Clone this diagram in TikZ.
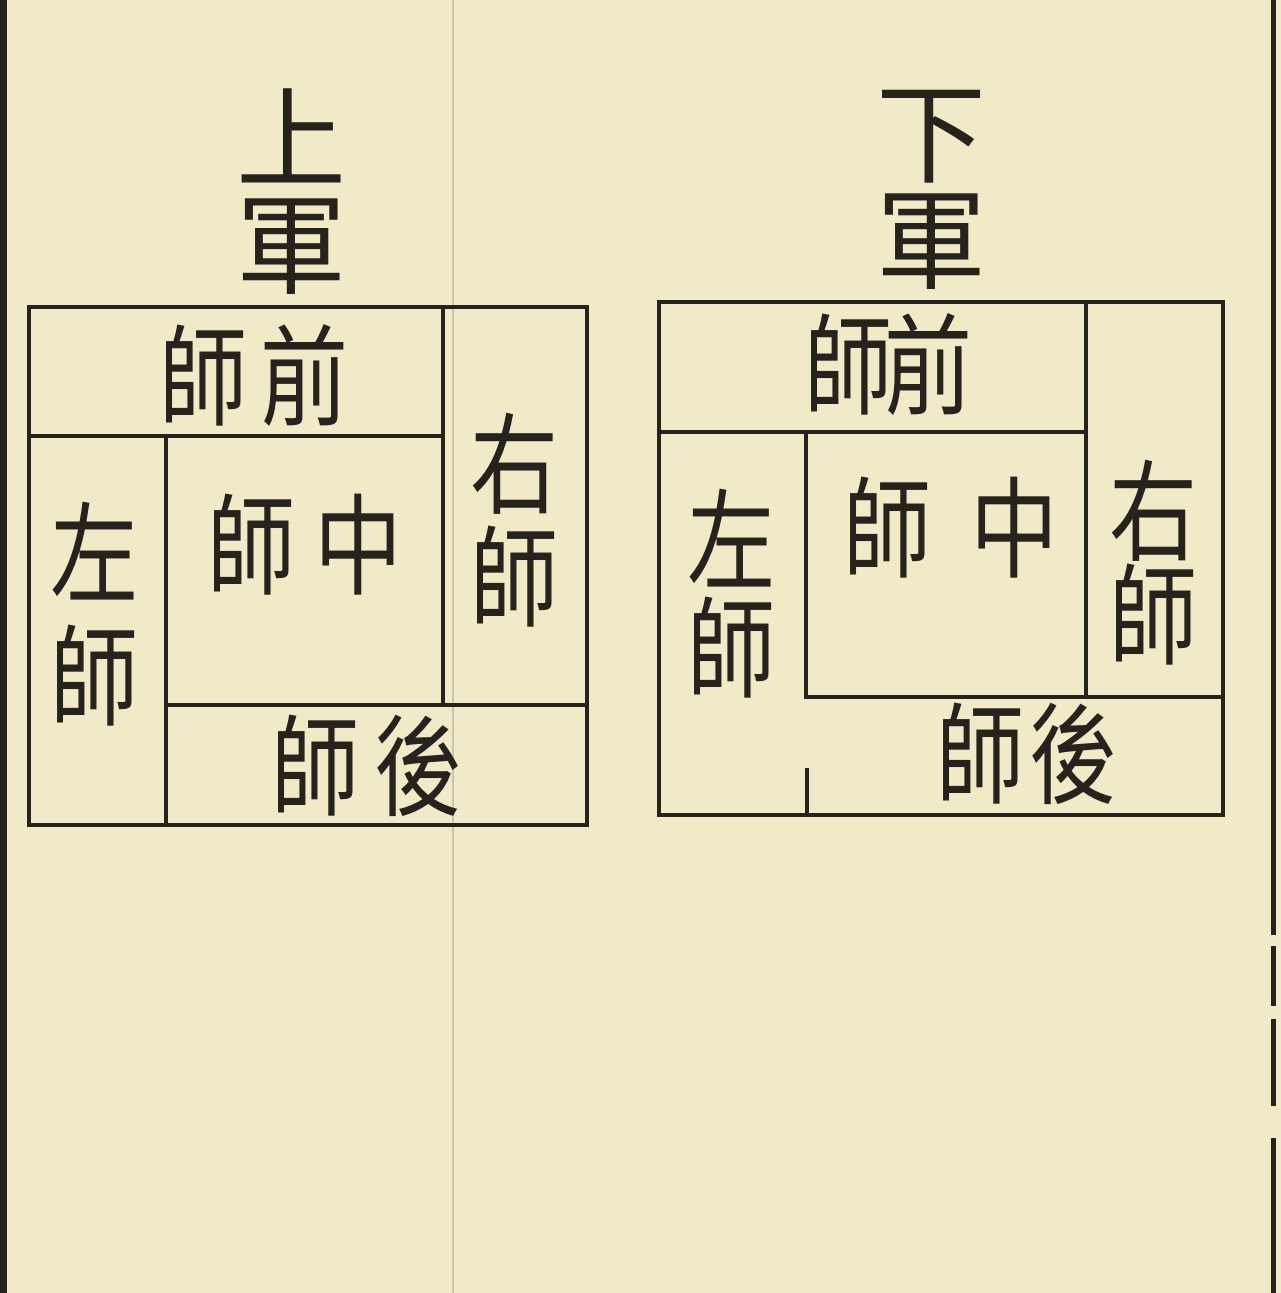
\documentclass[tikz,border=0pt]{standalone}
\usepackage{fontspec}
\newfontfamily\cjk[FakeStretch=0.8]{Noto Sans CJK TC}
\newfontfamily\cjkhead{Noto Sans CJK TC}
\definecolor{paper}{RGB}{241,234,201}
\definecolor{ink}{RGB}{38,34,28}
\definecolor{fold}{RGB}{200,196,178}

\begin{document}
\begin{tikzpicture}[x=1pt,y=-1pt]

\def\charSize{110}
\tikzset{
  wall/.style={draw=ink,line width=4.5pt,line cap=rect},
  hanzi/.style={text=ink,inner sep=0pt,align=center,font=\cjk\fontsize{\charSize}{#1}\selectfont},
  hanzi/.default=110,
  heading/.style={text=ink,inner sep=0pt,align=center,font=\cjkhead\fontsize{\charSize}{#1}\selectfont},
  heading/.default=106
}

\useasboundingbox (0,0) rectangle (1281,1293);
\fill[paper] (0,0) rectangle (1281,1293);

% page edges and the fold
\fill[ink] (0,0) rectangle (7,1293);
\draw[fold,line width=2pt] (453,0) -- (453,1293);
\draw[ink,line width=5pt] (1273,0) -- (1273,935) (1273,946) -- (1273,1006)
  (1273,1019) -- (1273,1106) (1273,1138) -- (1273,1293);

% upper army
\coordinate (U1) at (29,307);
\coordinate (U4) at (587,825);

\draw[wall] (U1) rectangle (U4);
\draw[wall] (U1 |- 0,436) -- (443,436);
\draw[wall] (443,0 |- U1) -- (443,705);
\draw[wall] (166,436) -- (166,0 |- U4);
\draw[wall] (166,705) -- (U4 |- 0,705);

\node[heading] (upTitle) at (291,192) {上\\軍};
\node[hanzi] (upFront) at (254,376) {師\hspace{14pt}前};
\node[hanzi=113] (upRight) at (514,520) {右\\師};
\node[hanzi] (upCenter) at (305,545) {師\hspace{20pt}中};
\node[hanzi=123] (upLeft) at (94,614) {左\\師};
\node[hanzi] (upBack) at (367,766) {師\hspace{16pt}後};

% lower army
\coordinate (D1) at (659,302);
\coordinate (D4) at (1223,815);

\draw[wall] (D1) rectangle (D4);
\draw[wall] (D1 |- 0,432) -- (1086,432);
\draw[wall] (1086,0 |- D1) -- (1086,697);
\draw[wall] (806,432) -- (806,697) -- (D4 |- 0,697);
\draw[wall] (807,770) -- (807,0 |- D4);

\node[heading] (downTitle) at (931,190) {下\\軍};
\node[hanzi] (downFront) at (888,365) {師\hspace{-8pt}前};
\node[hanzi=104] (downRight) at (1153,563) {右\\師};
\node[hanzi] (downCenter) at (951,528) {師\hspace{39pt}中};
\node[hanzi=108] (downLeft) at (731,594) {左\\師};
\node[hanzi] (downBack) at (1027,754) {師\hspace{6pt}後};

\end{tikzpicture}
\end{document}
